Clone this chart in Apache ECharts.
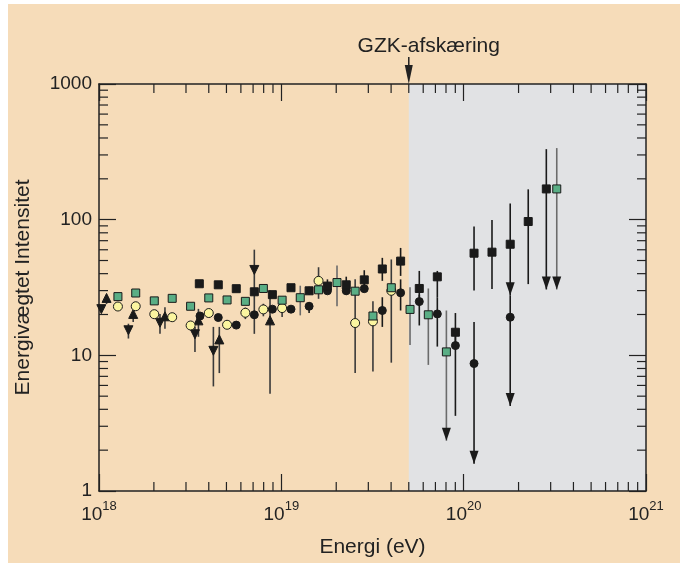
<!DOCTYPE html>
<html>
<head>
<meta charset="utf-8">
<script src="https://cdn.jsdelivr.net/npm/echarts@6/dist/echarts.min.js"></script>
<style>
  html, body { margin: 0; padding: 0; background: #fff; overflow: hidden; }
  #main { position: absolute; left: 0; top: 0; width: 680px; height: 563px; }
</style>
</head>
<body>
<div id="main"></div>
<script>
// energy (eV), intensity, error low, error high, [1 = arrow on low end]
var blackSquares = [
  [3.55e18, 33.7, null, null], [4.51e18, 33.1, null, null], [5.66e18, 31.0, null, null],
  [7.11e18, 29.4, null, null], [8.93e18, 28.0, null, null], [1.13e19, 31.5, null, null],
  [1.42e19, 29.9, 28.0, 32.0], [1.79e19, 32.4, 28.7, 36.3], [2.27e19, 33.1, 28.0, 38.0],
  [2.85e19, 36.0, 32.6, 42.4], [3.58e19, 43.3, 35.4, 52.3], [4.51e19, 49.5, 38.5, 61.9],
  [5.71e19, 31.1, 26.8, 41.9], [7.17e19, 37.9, 26.8, 41.9], [9.01e19, 14.8, 12.0, 20.5],
  [1.14e20, 56.6, 30.0, 88.9], [1.43e20, 57.6, 30.8, 99.5], [1.80e20, 65.9, 27.7, 131.6, 1],
  [2.26e20, 96.9, 33.5, 167.3], [2.84e20, 168.5, 30.6, 331, 1]
];
var greenSquares = [
  [1.27e18, 27.1, null, null], [1.59e18, 28.8, null, null], [2.01e18, 25.2, null, null],
  [2.52e18, 26.3, null, null], [3.18e18, 23.0, null, null], [4.00e18, 26.5, null, null],
  [5.04e18, 25.6, null, null], [6.35e18, 25.0, null, null], [7.97e18, 31.1, null, null],
  [1.01e19, 25.5, null, null], [1.27e19, 26.6, 19.7, 32.6], [1.60e19, 30.4, null, null],
  [2.02e19, 34.4, 23.0, 46.0], [2.54e19, 29.7, null, null], [3.18e19, 19.5, null, null],
  [4.01e19, 31.5, null, null], [5.08e19, 21.8, 11.9, 31.7], [6.40e19, 19.9, 8.5, 31.1],
  [8.04e19, 10.6, 2.35, 21.4, 1], [3.24e20, 168.5, 30.6, 337, 1]
];
var blackCircles = [
  [3.58e18, 19.5, null, null], [4.51e18, 19.0, null, null], [5.66e18, 16.7, null, null],
  [7.11e18, 19.9, null, null], [8.93e18, 21.9, null, null], [1.13e19, 21.9, null, null],
  [1.42e19, 23.0, 20.5, 24.6], [1.79e19, 29.9, null, null], [2.27e19, 29.9, null, null],
  [2.85e19, 31.0, null, null], [3.58e19, 21.4, 16.2, 26.8], [4.51e19, 28.9, 21.4, 36.3],
  [5.71e19, 24.9, 16.6, 28.0], [7.17e19, 20.2, 11.6, 26.8], [9.01e19, 11.8, 3.58, 14.8],
  [1.14e20, 8.7, 1.59, 17.6, 1], [1.80e20, 19.1, 4.23, 27.7, 1]
];
var yellowCircles = [
  [1.27e18, 22.9, null, null], [1.59e18, 23.0, null, null], [2.01e18, 20.1, null, null],
  [2.52e18, 19.1, null, null], [3.18e18, 16.6, null, null], [4.00e18, 20.5, null, null],
  [5.04e18, 16.8, null, null], [6.35e18, 20.6, 18.5, 22.5], [7.97e18, 21.8, 19.4, 24.0],
  [1.01e19, 22.3, 19.2, 25.5], [1.60e19, 35.4, 26.1, 44.6], [2.54e19, 17.3, 7.4, 36.3],
  [3.18e19, 17.8, 7.6, 25.0], [4.01e19, 29.9, 8.83, 50.9]
];
var downTriangles = [
  [1.03e18, 21.9, null, null], [1.45e18, 15.3, 13.3, 17.1], [2.16e18, 17.4, 14.4, 20.2],
  [3.36e18, 14.3, 10.6, 16.2], [4.24e18, 10.8, 5.9, 16.2], [7.11e18, 42.6, 14.4, 60.1]
];
var upTriangles = [
  [1.10e18, 26.5, 23.9, 27.5], [1.54e18, 20.2, 17.6, 20.2], [2.30e18, 19.4, 15.7, 22.6],
  [3.51e18, 18.1, 13.7, 22.0], [4.57e18, 13.1, 7.4, 16.2], [8.67e18, 18.1, 5.2, 30.1]
];

var gzkEnergy = 5e19;
var xRange = [1e18, 1e21];
var yRange = [1, 1000];
var yTickLabels = { 1: '1', 10: '10', 100: '100', 1000: '1000' };
var minorMantissas = [2, 3, 4, 5, 6, 7, 8, 9];
var xDecades = [1e18, 1e19, 1e20];
var yDecades = [1, 10, 100];

var FONT = '"Liberation Sans", Arial, Helvetica, sans-serif';
var INK = '#222';

var xMinor = [], yMinor = [];
xDecades.forEach(function (d) { minorMantissas.forEach(function (m) { xMinor.push([m * d, yRange[0]]); }); });
yDecades.forEach(function (d) { minorMantissas.forEach(function (m) { yMinor.push([xRange[0], m * d]); }); });

function errorBars(rows, color, z) {
  return {
    type: 'custom',
    z: z,
    data: rows.filter(function (r) { return r[2] != null; }).map(function (r) {
      return [r[0], r[1], r[2], r[3], r[4] ? 1 : 0];
    }),
    encode: { x: 0, y: 1 },
    renderItem: function (params, api) {
      var x = api.value(0);
      var top = api.coord([x, api.value(3)]);
      var bot = api.coord([x, api.value(2)]);
      var kids = [{
        type: 'line',
        shape: { x1: top[0], y1: top[1], x2: bot[0], y2: bot[1] },
        style: { stroke: color, lineWidth: 1.6 }
      }];
      if (api.value(4)) {
        kids.push({
          type: 'polygon',
          shape: { points: [[bot[0] - 4.5, bot[1] - 13], [bot[0] + 4.5, bot[1] - 13], [bot[0], bot[1]]] },
          style: { fill: '#1a1a1a' }
        });
      }
      return { type: 'group', children: kids };
    }
  };
}

function markers(rows, symbol, size, fill, rotate) {
  return {
    type: 'scatter',
    z: 6,
    symbol: symbol,
    symbolSize: size,
    symbolRotate: rotate || 0,
    data: rows.map(function (r) { return [r[0], r[1]]; }),
    itemStyle: { color: fill, borderColor: '#1a1a1a', borderWidth: 1, opacity: 1 }
  };
}

function axisBase(pos, showLabel) {
  return {
    type: 'log',
    logBase: 10,
    position: pos,
    z: 5,
    axisLine: { show: true, onZero: false, lineStyle: { color: INK, width: 1.5 } },
    axisTick: { show: true, inside: true, length: 17, lineStyle: { color: INK, width: 1.2 } },
    splitLine: { show: false },
    axisLabel: { show: showLabel }
  };
}

var myChart = echarts.init(document.getElementById('main'));

var xBottom = axisBase('bottom', true);
xBottom.min = xRange[0]; xBottom.max = xRange[1];
xBottom.axisLabel = {
  show: true, margin: 9,
  formatter: function (v) { return '{b|10}{s|' + Math.round(Math.log10(v)) + '}'; },
  rich: {
    b: { fontSize: 19, fontFamily: FONT, color: INK, lineHeight: 24, verticalAlign: 'bottom' },
    s: { fontSize: 13, fontFamily: FONT, color: INK, lineHeight: 24, verticalAlign: 'top' }
  }
};
xBottom.name = 'Energi (eV)';
xBottom.nameLocation = 'middle';
xBottom.nameGap = 46;
xBottom.nameTextStyle = { fontSize: 21, fontFamily: FONT, color: INK };

var xTop = axisBase('top', false);
xTop.min = xRange[0]; xTop.max = xRange[1];

var yLeft = axisBase('left', true);
yLeft.min = yRange[0]; yLeft.max = yRange[1];
yLeft.axisLabel = {
  show: true, margin: 7, fontSize: 19, fontFamily: FONT, color: INK,
  formatter: function (v) { return yTickLabels[Math.round(v)] || ''; }
};
yLeft.name = 'Energivægtet Intensitet';
yLeft.nameLocation = 'middle';
yLeft.nameGap = 65;
yLeft.nameTextStyle = { fontSize: 21, fontFamily: FONT, color: INK };

var yRight = axisBase('right', false);
yRight.min = yRange[0]; yRight.max = yRange[1];

option = {
  backgroundColor: '#ffffff',
  animation: false,
  graphic: [{
    type: 'rect', z: -10, silent: true,
    shape: { x: 8, y: 4, width: 672, height: 559 },
    style: { fill: '#f6dcb9' }
  }],
  grid: { left: 99, top: 84, right: 34, bottom: 67, containLabel: false },
  xAxis: [xBottom, xTop],
  yAxis: [yLeft, yRight],
  series: [
    {
      type: 'scatter',
      z: 1,
      data: [],
      markArea: {
        silent: true,
        itemStyle: { color: '#e1e2e4', opacity: 1 },
        data: [[{ xAxis: gzkEnergy, yAxis: yRange[0] }, { xAxis: xRange[1], yAxis: yRange[1] }]]
      }
    },
    {
      // minor ticks along bottom and top
      type: 'custom', z: 5, silent: true,
      data: xMinor,
      renderItem: function (params, api) {
        var cs = params.coordSys;
        var p = api.coord([api.value(0), api.value(1)]);
        return { type: 'group', children: [
          { type: 'line', shape: { x1: p[0], y1: cs.y + cs.height, x2: p[0], y2: cs.y + cs.height - 9 }, style: { stroke: INK, lineWidth: 1.2 } },
          { type: 'line', shape: { x1: p[0], y1: cs.y, x2: p[0], y2: cs.y + 9 }, style: { stroke: INK, lineWidth: 1.2 } }
        ] };
      }
    },
    {
      // minor ticks along left and right
      type: 'custom', z: 5, silent: true,
      data: yMinor,
      renderItem: function (params, api) {
        var cs = params.coordSys;
        var p = api.coord([api.value(0), api.value(1)]);
        return { type: 'group', children: [
          { type: 'line', shape: { x1: cs.x, y1: p[1], x2: cs.x + 9, y2: p[1] }, style: { stroke: INK, lineWidth: 1.2 } },
          { type: 'line', shape: { x1: cs.x + cs.width, y1: p[1], x2: cs.x + cs.width - 9, y2: p[1] }, style: { stroke: INK, lineWidth: 1.2 } }
        ] };
      }
    },
    {
      // GZK cut-off arrow and label
      type: 'custom', z: 7, silent: true, clip: false,
      data: [[gzkEnergy, yRange[1]]],
      renderItem: function (params, api) {
        var p = api.coord([api.value(0), api.value(1)]);
        return { type: 'group', children: [
          { type: 'line', shape: { x1: p[0], y1: p[1] - 27, x2: p[0], y2: p[1] - 10 }, style: { stroke: INK, lineWidth: 1.5 } },
          { type: 'polygon', shape: { points: [[p[0] - 4, p[1] - 19], [p[0] + 4, p[1] - 19], [p[0], p[1]]] }, style: { fill: INK } },
          { type: 'text', x: p[0] + 20, y: p[1] - 38,
            style: { text: 'GZK-afskæring', fontSize: 21, fontFamily: FONT, fill: INK, align: 'center', verticalAlign: 'middle' } }
        ] };
      }
    },
    errorBars(blackSquares, '#1a1a1a', 3),
    errorBars(greenSquares, '#6b6b6b', 3),
    errorBars(blackCircles, '#1a1a1a', 3),
    errorBars(yellowCircles, '#3a3a3a', 3),
    errorBars(downTriangles, '#3a3a3a', 3),
    errorBars(upTriangles, '#3a3a3a', 3),
    markers(downTriangles, 'triangle', [9, 9], '#1a1a1a', 180),
    markers(upTriangles, 'triangle', [9, 9], '#1a1a1a'),
    markers(blackCircles, 'circle', 8, '#1a1a1a'),
    markers(yellowCircles, 'circle', 9, '#fbf5a0'),
    markers(blackSquares, 'rect', 8, '#1a1a1a'),
    markers(greenSquares, 'rect', 8, '#5aae85')
  ]
};
myChart.setOption(option);
</script>
</body>
</html>
